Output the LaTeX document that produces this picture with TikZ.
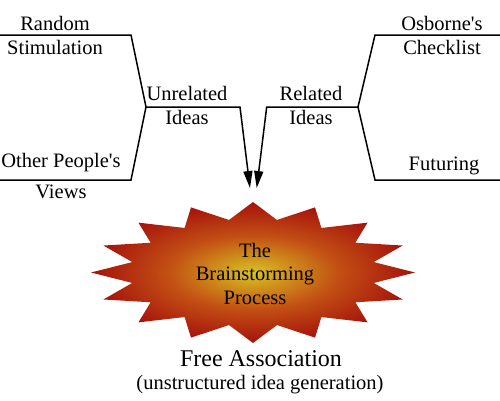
\documentclass[tikz,border=0pt]{standalone}
\usepackage{fontspec}
\setmainfont{Liberation Serif}[Ligatures=TeXOff]
\usetikzlibrary{arrows.meta}
\definecolor{burstyellow}{RGB}{215,195,40}
\definecolor{burstorange}{RGB}{208,150,28}
\definecolor{burstmid}{RGB}{195,80,20}
\definecolor{burstred}{RGB}{165,18,12}
\pgfdeclareradialshading{burst}{\pgfpoint{0bp}{0bp}}{color(0bp)=(burstyellow); color(5bp)=(burstorange); color(13bp)=(burstmid); color(25bp)=(burstred); color(50bp)=(burstred)}
\begin{document}
\begin{tikzpicture}[x=1pt, y=-1pt, line width=1.5pt,
    lbl/.style={font=\fontsize{20.5}{23.5}\selectfont, align=center, inner sep=0pt, anchor=base},
    into/.style={-{Triangle[length=17pt,width=9pt]}}]
  \useasboundingbox (0,0) rectangle (500,400);
  % junctions
  \coordinate (rsl) at (0,35);    \coordinate (rsj) at (131,35);
  \coordinate (opl) at (0,180);   \coordinate (opj) at (131,180);
  \coordinate (unj) at (146,107); \coordinate (unk) at (240,107);
  \coordinate (osr) at (500,35);  \coordinate (osj) at (375,35);
  \coordinate (fur) at (500,180); \coordinate (fuj) at (375,180);
  \coordinate (rej) at (358,107); \coordinate (rek) at (266.7,107);
  \coordinate (ltip) at (250,188); \coordinate (rtip) at (256.7,188);
  % the burst
  \shade[shading=burst] (415,272.5)
    \foreach \a in {0,22.5,...,337.5} {
      -- ({253+162*cos(\a)},{272.5+70.5*sin(\a)})
      -- ({253+0.76*162*cos(\a+11.25)},{272.5+0.76*70.5*sin(\a+11.25)})
    } -- cycle;
  % forks
  \draw (rsl) -- (rsj) -- (unj) -- (opj) -- (opl);
  \draw (osr) -- (osj) -- (rej) -- (fuj) -- (fur);
  \draw[into] (unj) -- (unk) -- (ltip);
  \draw[into] (rej) -- (rek) -- (rtip);
  % text (base is the last line)
  \node[lbl] (random) at (55,54) {Random\\Stimulation};
  \node[lbl] (others) at (61,198) {Other People's\\[7pt]Views};
  \node[lbl] (unrelated) at (187,124) {Unrelated\\Ideas};
  \node[lbl] (related) at (311,124) {Related\\Ideas};
  \node[lbl] (osborne) at (442,54) {Osborne's\\Checklist};
  \node[lbl] (futuring) at (444,170) {Futuring};
  \node[lbl] (process) at (255,304) {The\\Brainstorming\\Process};
  \node[lbl, font=\fontsize{24}{26}\selectfont] (free) at (261,366) {Free Association};
  \node[lbl] (unstructured) at (260,389) {(unstructured idea generation)};
\end{tikzpicture}
\end{document}
